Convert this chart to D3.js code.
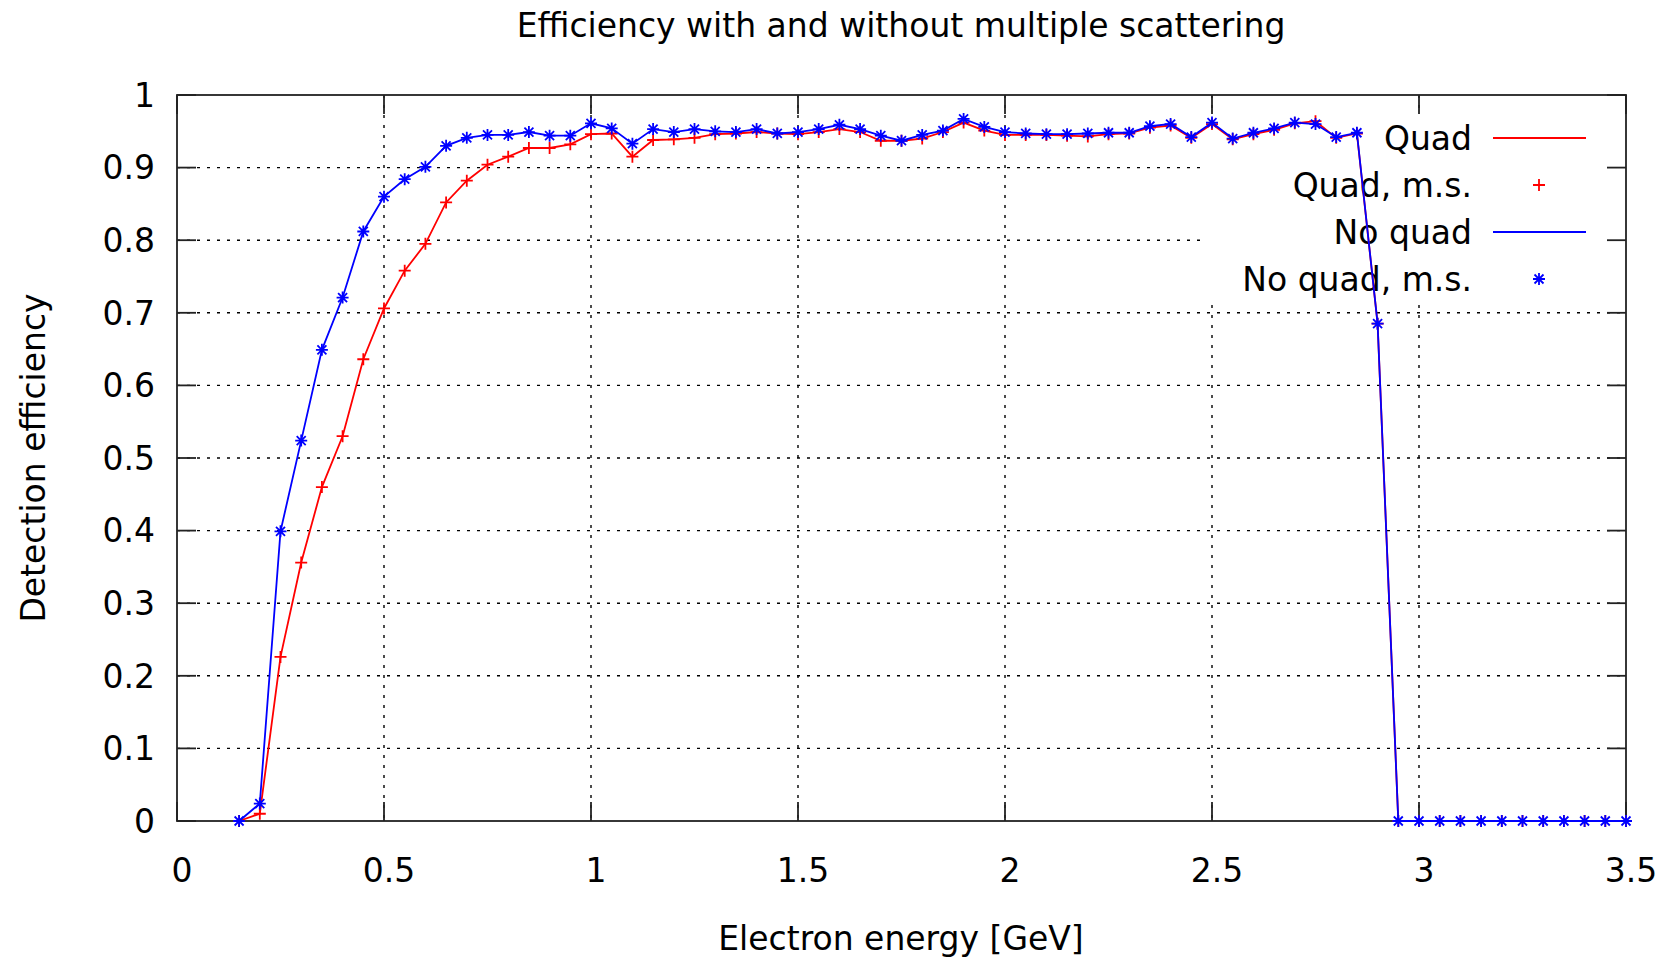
<!DOCTYPE html>
<meta charset="utf-8">
<style>

body {
  margin: 0;
  background: #fff;
}

text {
  font-family: "DejaVu Sans", Verdana, sans-serif;
  font-size: 33px;
  fill: #000;
}

.grid line {
  stroke: #000;
  stroke-width: 1.4px;
  stroke-dasharray: 3, 7;
}

.border {
  fill: none;
  stroke: #222;
  stroke-width: 1.8px;
}

.tick-mark {
  stroke: #222;
  stroke-width: 1.8px;
}

.curve {
  fill: none;
  stroke-width: 1.8px;
}

.pt {
  fill: none;
  stroke-width: 1.8px;
}

</style>
<body>
<script src="https://d3js.org/d3.v7.min.js"></script>
<script>

// electron energy [GeV]
var energy = [0.15, 0.2, 0.25, 0.3, 0.35, 0.4, 0.45, 0.5, 0.55, 0.6, 0.65, 0.7, 0.75, 0.8, 0.85, 0.9, 0.95,
  1.0, 1.05, 1.1, 1.15, 1.2, 1.25, 1.3, 1.35, 1.4, 1.45, 1.5, 1.55, 1.6, 1.65, 1.7, 1.75, 1.8, 1.85, 1.9, 1.95,
  2.0, 2.05, 2.1, 2.15, 2.2, 2.25, 2.3, 2.35, 2.4, 2.45, 2.5, 2.55, 2.6, 2.65, 2.7, 2.75, 2.8, 2.85, 2.9, 2.95,
  3.0, 3.05, 3.1, 3.15, 3.2, 3.25, 3.3, 3.35, 3.4, 3.45, 3.5];

// detection efficiency, with quad
var quad = [0, 0.010, 0.226, 0.356, 0.460, 0.530, 0.636, 0.706, 0.758, 0.795, 0.852, 0.882, 0.904, 0.915, 0.927, 0.927, 0.932,
  0.946, 0.947, 0.915, 0.938, 0.939, 0.941, 0.946, 0.947, 0.949, 0.947, 0.946, 0.949, 0.953, 0.949, 0.937, 0.937, 0.940, 0.949, 0.962, 0.951,
  0.945, 0.945, 0.945, 0.944, 0.943, 0.946, 0.947, 0.955, 0.958, 0.941, 0.960, 0.939, 0.946, 0.952, 0.961, 0.964, 0.941, 0.947, 0.685, 0,
  0, 0, 0, 0, 0, 0, 0, 0, 0, 0, 0];

// detection efficiency, no quad
var noQuad = [0, 0.024, 0.399, 0.524, 0.649, 0.721, 0.812, 0.860, 0.884, 0.901, 0.930, 0.941, 0.945, 0.945, 0.949, 0.944, 0.944,
  0.961, 0.954, 0.933, 0.953, 0.949, 0.953, 0.950, 0.949, 0.953, 0.947, 0.949, 0.953, 0.959, 0.953, 0.944, 0.937, 0.945, 0.951, 0.967, 0.956,
  0.949, 0.947, 0.946, 0.946, 0.947, 0.948, 0.948, 0.957, 0.960, 0.942, 0.962, 0.940, 0.948, 0.954, 0.962, 0.960, 0.942, 0.948, 0.685, 0,
  0, 0, 0, 0, 0, 0, 0, 0, 0, 0, 0];

var xTicks = [0, 0.5, 1, 1.5, 2, 2.5, 3, 3.5],
    yTicks = [0, 0.1, 0.2, 0.3, 0.4, 0.5, 0.6, 0.7, 0.8, 0.9, 1];

var legendLabels = ["Quad", "Quad, m.s.", "No quad", "No quad, m.s."];

var width = 1665,
    height = 959,
    margin = {top: 95, right: 39, bottom: 138, left: 177};

var x = d3.scaleLinear().domain([0, 3.5]).range([margin.left, width - margin.right]),
    y = d3.scaleLinear().domain([0, 1]).range([height - margin.bottom, margin.top]);

var fmt = d3.format("~g"),
    tickLen = 19;

var svg = d3.select("body").append("svg")
    .attr("width", width)
    .attr("height", height);

// dotted grid
var grid = svg.append("g").attr("class", "grid");
grid.selectAll(".gx")
    .data(xTicks.slice(1, -1))
  .enter().append("line")
    .attr("x1", x).attr("x2", x)
    .attr("y1", y(1)).attr("y2", y(0));
grid.selectAll(".gy")
    .data(yTicks.slice(1, -1))
  .enter().append("line")
    .attr("x1", x(0)).attr("x2", x(3.5))
    .attr("y1", y).attr("y2", y);

// opaque key box
svg.append("rect")
    .attr("x", 1204)
    .attr("y", 112)
    .attr("width", x(3.5) - 1204)
    .attr("height", 191)
    .attr("fill", "#fff");

// ticks on all four sides, pointing inward
var ticks = svg.append("g");
xTicks.forEach(function(t) {
  ticks.append("line").attr("class", "tick-mark")
      .attr("x1", x(t)).attr("x2", x(t)).attr("y1", y(0)).attr("y2", y(0) - tickLen);
  ticks.append("line").attr("class", "tick-mark")
      .attr("x1", x(t)).attr("x2", x(t)).attr("y1", y(1)).attr("y2", y(1) + tickLen);
  ticks.append("text")
      .attr("x", x(t) + 5)
      .attr("y", y(0) + 61)
      .attr("text-anchor", "middle")
      .text(fmt(t));
});
yTicks.forEach(function(t) {
  ticks.append("line").attr("class", "tick-mark")
      .attr("x1", x(0)).attr("x2", x(0) + tickLen).attr("y1", y(t)).attr("y2", y(t));
  ticks.append("line").attr("class", "tick-mark")
      .attr("x1", x(3.5)).attr("x2", x(3.5) - tickLen).attr("y1", y(t)).attr("y2", y(t));
  ticks.append("text")
      .attr("x", x(0) - 22)
      .attr("y", y(t))
      .attr("dy", "0.36em")
      .attr("text-anchor", "end")
      .text(fmt(t));
});

svg.append("rect")
    .attr("class", "border")
    .attr("x", x(0))
    .attr("y", y(1))
    .attr("width", x(3.5) - x(0))
    .attr("height", y(0) - y(1));

// titles
svg.append("text")
    .attr("x", 901)
    .attr("y", 37)
    .attr("text-anchor", "middle")
    .text("Efficiency with and without multiple scattering");

svg.append("text")
    .attr("x", 901)
    .attr("y", 950)
    .attr("text-anchor", "middle")
    .text("Electron energy [GeV]");

svg.append("text")
    .attr("transform", "translate(45," + ((y(0) + y(1)) / 2) + ")rotate(-90)")
    .attr("text-anchor", "middle")
    .text("Detection efficiency");

// marker shapes
var plus = "M-6,0H6M0,-6V6",
    star = "M-6,0H6M0,-6V6M-4.5,-4.5L4.5,4.5M-4.5,4.5L4.5,-4.5";

// legend
var legend = svg.append("g");
var rowY = [138, 185, 232, 279];
legendLabels.forEach(function(label, i) {
  legend.append("text")
      .attr("x", 1472)
      .attr("y", rowY[i])
      .attr("dy", "0.36em")
      .attr("text-anchor", "end")
      .text(label);
});
var red = "#ff0000", blue = "#0000ff";
legend.append("line").attr("class", "curve").attr("stroke", red)
    .attr("x1", 1493).attr("x2", 1586).attr("y1", rowY[0]).attr("y2", rowY[0]);
legend.append("path").attr("class", "pt").attr("stroke", red)
    .attr("d", plus).attr("transform", "translate(1539," + rowY[1] + ")");
legend.append("line").attr("class", "curve").attr("stroke", blue)
    .attr("x1", 1493).attr("x2", 1586).attr("y1", rowY[2]).attr("y2", rowY[2]);
legend.append("path").attr("class", "pt").attr("stroke", blue)
    .attr("d", star).attr("transform", "translate(1539," + rowY[3] + ")");

// data
var line = d3.line()
    .x(function(d) { return x(d[0]); })
    .y(function(d) { return y(d[1]); });

function drawSeries(values, color, shape) {
  var pts = energy.map(function(e, i) { return [e, values[i]]; });
  svg.append("path")
      .datum(pts)
      .attr("class", "curve")
      .attr("stroke", color)
      .attr("d", line);
  svg.append("g").selectAll("path")
      .data(pts)
    .enter().append("path")
      .attr("class", "pt")
      .attr("stroke", color)
      .attr("d", shape)
      .attr("transform", function(d) { return "translate(" + x(d[0]) + "," + y(d[1]) + ")"; });
}

drawSeries(quad, red, plus);
drawSeries(noQuad, blue, star);

</script>
